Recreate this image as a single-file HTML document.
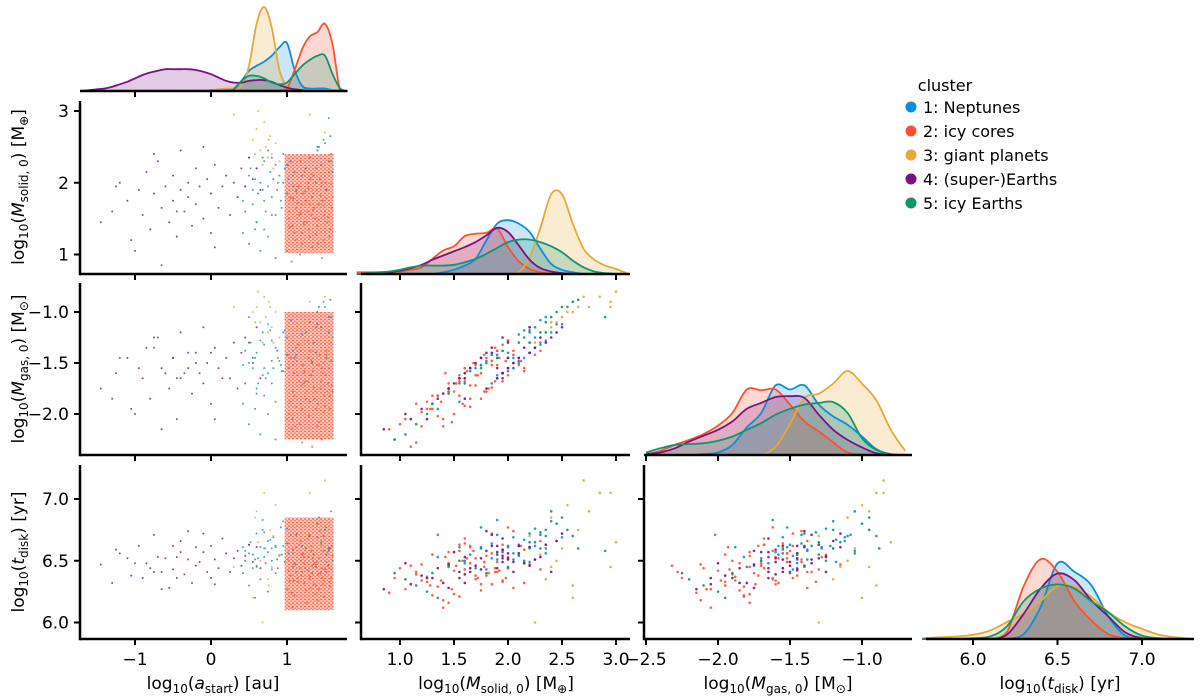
<!DOCTYPE html>
<html><head><meta charset="utf-8"><style>
html,body{margin:0;padding:0;background:#fff}
svg{display:block}
text{font-family:"DejaVu Sans","Liberation Sans",sans-serif;fill:#000}
</style></head><body>
<svg id="chart" width="1200" height="697" viewBox="0 0 1200 697" xmlns="http://www.w3.org/2000/svg">
<defs>
<pattern id="redDots" patternUnits="userSpaceOnUse" width="4" height="3.5">
<circle cx="1" cy="1" r="0.9" fill="#fc5130"/>
<circle cx="3" cy="2.7" r="0.8" fill="#fc5130" opacity="0.8"/>
</pattern>
</defs>
</svg>
<script>
// ---------- data ----------
const clusterNames = ["1: Neptunes","2: icy cores","3: giant planets","4: (super-)Earths","5: icy Earths"];
const clusterColors = ["#0c8ed9","#fc5130","#e6a836","#7d1282","#12946e"];
// points: [log a, log Msolid, log Mgas, log tdisk]
const pts1 = [[0.45,1.95,-1.38,6.58],[0.5,2.1,-1.5,6.63],[0.55,1.7,-1.55,6.44],[0.6,2.2,-1.4,6.72],[0.62,1.85,-1.7,6.52],[0.65,2.0,-1.28,6.61],[0.7,2.3,-1.32,6.73],[0.72,1.6,-1.65,6.48],[0.75,1.95,-1.6,6.57],[0.78,2.15,-1.18,6.67],[0.8,1.8,-1.48,6.43],[0.82,2.05,-1.55,6.69],[0.85,2.25,-1.35,6.62],[0.87,1.9,-1.38,6.51],[0.9,2.1,-1.48,6.54],[0.92,1.75,-1.52,6.77],[0.95,2.0,-1.58,6.62],[0.97,2.2,-1.18,6.49],[1.0,1.85,-1.42,6.64],[1.02,2.05,-1.55,6.56],[1.05,2.3,-1.08,6.71],[1.08,1.95,-1.38,6.59],[1.1,2.15,-1.45,6.48],[0.6,1.45,-1.75,6.46],[0.7,1.35,-1.82,6.53],[0.85,1.55,-1.88,6.61],[0.95,2.4,-1.2,6.82],[0.75,2.45,-1.12,6.66],[1.2,2.1,-1.22,6.62],[1.4,2.5,-1.12,6.69],[1.55,2.9,-1.05,6.58],[0.5,2.35,-1.05,6.56],[0.88,2.0,-1.45,6.44],[0.68,1.9,-1.62,6.83],[0.93,1.65,-1.58,6.55],[1.0,2.25,-1.25,6.76],[0.58,2.05,-1.45,6.51],[0.8,2.35,-1.28,6.6],[1.12,1.9,-1.42,6.71],[0.42,1.75,-1.52,6.61]];
const pts2 = [[1.0,1.05,-2.05,6.27],[1.02,1.5,-2.0,6.42],[1.05,1.8,-1.45,6.38],[1.08,2.1,-1.52,6.56],[1.1,1.3,-1.82,6.22],[1.12,1.65,-1.93,6.61],[1.15,1.95,-1.32,6.33],[1.18,2.3,-1.38,6.66],[1.2,1.15,-2.28,6.41],[1.22,1.45,-1.7,6.48],[1.25,1.75,-1.85,6.26],[1.28,2.0,-1.28,6.53],[1.3,1.25,-1.88,6.37],[1.32,1.55,-1.62,6.58],[1.35,1.85,-1.74,6.31],[1.38,2.2,-1.15,6.47],[1.4,1.4,-2.12,6.18],[1.42,1.7,-1.52,6.52],[1.45,1.95,-1.68,6.63],[1.48,1.2,-1.98,6.34],[1.5,1.6,-1.92,6.43],[1.52,1.9,-1.38,6.41],[1.55,2.15,-1.55,6.59],[1.57,1.35,-1.82,6.29],[1.6,1.8,-1.78,6.54],[1.03,1.6,-1.55,6.64],[1.07,1.4,-2.05,6.12],[1.13,1.85,-1.48,6.72],[1.17,1.0,-2.1,6.44],[1.23,2.15,-1.58,6.32],[1.27,1.6,-1.68,6.68],[1.33,1.1,-2.32,6.46],[1.37,1.5,-1.78,6.23],[1.43,2.05,-1.42,6.74],[1.47,1.75,-1.6,6.31],[1.53,1.45,-1.78,6.57],[1.58,2.3,-1.3,6.43],[1.09,1.95,-1.6,6.34],[1.19,1.7,-1.72,6.38],[1.29,1.35,-2.02,6.71],[1.39,1.9,-1.52,6.49],[1.49,1.55,-1.82,6.21],[1.59,1.65,-1.72,6.62],[1.01,2.25,-1.42,6.51],[1.11,1.2,-2.12,6.47],[1.21,1.85,-1.52,6.56],[1.31,2.05,-1.38,6.28],[1.41,1.15,-1.9,6.39],[1.51,2.0,-1.62,6.77],[1.56,1.25,-1.95,6.33],[1.06,0.9,-2.15,6.24],[1.46,0.95,-2.25,6.36],[1.16,1.55,-1.68,6.63],[1.36,1.65,-1.85,6.48],[1.26,1.45,-1.78,6.16],[1.14,1.72,-1.62,6.36],[1.24,1.88,-1.68,6.44],[1.34,1.62,-1.58,6.52],[1.44,1.82,-1.75,6.4],[1.54,1.52,-1.7,6.46],[1.04,1.38,-1.88,6.34],[1.18,1.58,-1.9,6.5],[1.28,1.92,-1.45,6.42],[1.38,1.28,-1.95,6.3],[1.48,1.68,-1.5,6.58],[1.58,1.98,-1.48,6.36],[1.08,1.78,-1.78,6.45],[1.22,1.42,-1.6,6.53],[1.32,2.12,-1.48,6.62],[1.42,1.48,-2.08,6.27],[1.52,1.78,-1.42,6.49],[1.12,1.88,-1.35,6.41],[1.3,1.7,-1.62,6.35],[1.46,2.0,-1.55,6.44],[1.2,1.3,-1.95,6.55]];
const pts3 = [[0.55,2.6,-1.0,6.2],[0.6,2.75,-0.95,6.9],[0.65,2.45,-1.1,6.5],[0.7,2.85,-0.85,7.05],[0.72,2.5,-1.05,6.6],[0.75,2.35,-1.2,6.35],[0.78,2.65,-0.95,6.75],[0.8,2.4,-1.15,6.45],[0.85,2.55,-1.0,6.95],[0.9,2.3,-1.25,6.55],[0.62,3.0,-0.8,6.65],[0.68,2.25,-1.3,6.0],[1.3,2.95,-0.9,7.05],[1.5,2.7,-0.85,7.15],[0.3,2.95,-0.95,6.45],[0.82,2.2,-1.3,6.7],[0.58,2.4,-1.1,6.85],[0.76,2.6,-0.9,6.3]];
const pts4 = [[-1.45,1.45,-1.75,6.47],[-1.3,1.6,-1.85,6.32],[-1.2,2.0,-1.45,6.56],[-1.1,1.75,-1.45,6.52],[-1.05,1.2,-1.95,6.38],[-0.95,1.9,-1.55,6.62],[-0.9,1.55,-1.65,6.36],[-0.85,2.15,-1.35,6.48],[-0.8,1.35,-1.85,6.44],[-0.75,1.85,-1.35,6.71],[-0.7,2.3,-1.25,6.53],[-0.65,1.65,-1.55,6.41],[-0.6,1.95,-1.6,6.52],[-0.55,1.45,-1.75,6.28],[-0.5,2.1,-1.45,6.62],[-0.5,1.75,-1.45,6.43],[-0.45,1.25,-2.05,6.36],[-0.4,1.9,-1.65,6.57],[-0.4,2.45,-1.2,6.66],[-0.35,1.6,-1.6,6.39],[-0.3,2.0,-1.55,6.51],[-0.3,1.8,-1.4,6.74],[-0.25,1.4,-1.8,6.32],[-0.2,2.2,-1.4,6.61],[-0.2,1.7,-1.5,6.46],[-0.15,1.95,-1.6,6.49],[-0.1,1.5,-1.7,6.57],[-0.05,2.05,-1.5,6.41],[0.0,1.85,-1.4,6.62],[0.0,1.3,-1.9,6.36],[0.05,2.25,-1.35,6.51],[0.1,1.65,-1.55,6.44],[0.15,1.95,-1.65,6.68],[0.2,2.1,-1.45,6.56],[0.25,1.55,-1.65,6.41],[0.3,2.0,-1.3,6.52],[0.35,1.8,-1.75,6.58],[0.4,2.2,-1.4,6.46],[0.45,1.95,-1.25,6.54],[0.5,2.35,-1.3,6.63],[0.55,2.05,-1.5,6.49],[0.6,2.2,-1.15,6.61],[0.65,1.9,-1.65,6.44],[-0.65,0.85,-2.15,6.27],[-1.0,1.05,-2.0,6.48],[-0.1,2.5,-1.15,6.72],[-0.75,2.4,-1.25,6.41],[-1.25,1.95,-1.6,6.59],[0.05,1.1,-2.05,6.31],[-0.45,1.6,-1.65,6.53]];
const pts5 = [[0.42,1.3,-1.9,6.4],[0.45,1.6,-1.7,6.5],[0.5,1.15,-2.1,6.3],[0.55,1.9,-1.45,6.55],[0.6,1.45,-1.8,6.45],[0.65,1.05,-2.2,6.35],[0.7,1.75,-1.55,6.6],[0.75,1.25,-2.0,6.25],[0.8,1.55,-1.7,6.5],[0.85,0.95,-2.25,6.4],[1.25,2.2,-1.2,6.6],[1.3,2.35,-1.1,6.7],[1.35,2.1,-1.3,6.55],[1.4,2.45,-1.0,6.8],[1.45,2.25,-1.15,6.65],[1.5,2.55,-0.95,6.75],[1.55,2.3,-1.2,6.6],[1.58,2.4,-1.05,6.9],[1.6,2.15,-1.25,6.5],[1.48,2.6,-0.9,6.7],[1.38,2.0,-1.4,6.45],[1.52,1.9,-1.45,6.55],[0.52,2.2,-1.3,6.65],[0.68,2.35,-1.2,6.75],[1.42,2.5,-0.95,6.85],[1.57,2.65,-0.88,6.6],[0.58,1.35,-1.95,6.2],[1.33,1.8,-1.5,6.4]];
const clusterPoints = [pts1,pts2,pts3,pts4,pts5];
// dense red block in the a_start column: [a_min,a_max, Ms_min,Ms_max, Mg_min,Mg_max, t_min,t_max]
const redDenseBlock = [0.97,1.61, 1.02,2.4, -2.25,-1.0, 6.1,6.85];

// KDE grids and relative densities (order: cluster 1..5)
const gridA = [-1.7,-1.6,-1.5,-1.4,-1.3,-1.2,-1.1,-1.0,-0.9,-0.8,-0.7,-0.6,-0.5,-0.4,-0.3,-0.2,-0.1,0,0.1,0.2,0.3,0.4,0.5,0.6,0.7,0.8,0.9,1.0,1.1,1.2,1.3,1.4,1.5,1.6,1.7,1.8];
const kdeA = [
 [0,0,0,0,0,0,0,0,0,0,0,0,0,0,0,0,0,0,0,0.01,0.03,0.12,0.24,0.3,0.35,0.42,0.52,0.57,0.25,0.06,0.03,0.03,0.03,0.01,0,0],
 [0,0,0,0,0,0,0,0,0,0,0,0,0,0,0,0,0,0,0,0,0,0,0,0,0,0,0,0.03,0.25,0.5,0.65,0.7,0.8,0.55,0,0],
 [0,0,0,0,0,0,0,0,0,0,0,0,0,0,0,0,0,0.01,0.02,0.03,0.03,0.06,0.3,0.8,1.0,0.75,0.25,0.05,0.02,0.01,0.01,0.01,0.01,0.01,0,0],
 [0,0.01,0.02,0.03,0.05,0.08,0.11,0.15,0.19,0.22,0.24,0.26,0.26,0.26,0.26,0.25,0.23,0.2,0.16,0.12,0.1,0.1,0.12,0.13,0.13,0.11,0.07,0.04,0.02,0.01,0,0,0,0,0,0],
 [0,0,0,0,0,0,0,0,0,0,0,0,0,0,0,0,0,0,0,0,0.02,0.12,0.18,0.18,0.15,0.1,0.08,0.1,0.2,0.3,0.37,0.42,0.42,0.2,0.03,0]];
const gridMs = [0.6,0.7,0.8,0.9,1.0,1.1,1.2,1.3,1.4,1.5,1.6,1.7,1.8,1.9,2.0,2.1,2.2,2.3,2.4,2.5,2.6,2.7,2.8,2.9,3.0,3.1];
const kdeMs = [
 [0,0,0,0,0,0,0,0,0.02,0.05,0.1,0.18,0.4,0.6,0.64,0.6,0.5,0.3,0.12,0.05,0.02,0,0,0,0,0],
 [0.02,0.02,0.02,0.02,0.03,0.05,0.08,0.18,0.28,0.33,0.45,0.48,0.49,0.54,0.32,0.15,0.06,0.02,0,0,0,0,0,0,0,0],
 [0,0,0,0,0,0,0,0,0,0,0,0,0,0,0,0.02,0.2,0.55,0.95,0.95,0.6,0.3,0.17,0.1,0.06,0.01],
 [0,0,0.01,0.02,0.04,0.07,0.11,0.17,0.22,0.27,0.32,0.38,0.46,0.55,0.5,0.34,0.17,0.07,0.03,0.01,0,0,0,0,0,0],
 [0,0.01,0.02,0.03,0.05,0.08,0.1,0.1,0.1,0.11,0.14,0.18,0.24,0.31,0.38,0.41,0.41,0.38,0.33,0.26,0.16,0.08,0.03,0.01,0,0]];
const gridMg = [-2.5,-2.4,-2.3,-2.2,-2.1,-2.0,-1.9,-1.8,-1.7,-1.6,-1.5,-1.4,-1.3,-1.2,-1.1,-1.0,-0.9,-0.8,-0.7];
const kdeMg = [
 [0,0,0,0,0.01,0.03,0.12,0.33,0.5,0.83,0.78,0.83,0.6,0.46,0.36,0.22,0.07,0.01,0],
 [0.01,0.05,0.12,0.18,0.25,0.35,0.5,0.78,0.77,0.78,0.6,0.4,0.28,0.15,0.03,0,0,0,0],
 [0,0,0,0,0,0,0,0,0,0.1,0.37,0.68,0.73,0.85,1.0,0.85,0.65,0.3,0.05],
 [0.01,0.03,0.08,0.16,0.23,0.3,0.4,0.55,0.62,0.69,0.7,0.68,0.48,0.3,0.18,0.09,0.02,0,0],
 [0.03,0.08,0.12,0.13,0.14,0.17,0.22,0.3,0.38,0.48,0.55,0.6,0.62,0.63,0.5,0.2,0.06,0.01,0]];
const gridT = [5.7,5.8,5.9,6.0,6.1,6.2,6.3,6.4,6.5,6.6,6.7,6.8,6.9,7.0,7.1,7.2,7.3];
const kdeT = [
 [0,0,0,0,0,0,0.06,0.38,0.9,0.8,0.64,0.27,0.04,0,0,0,0],
 [0,0,0,0,0,0.08,0.63,0.95,0.8,0.45,0.22,0.06,0.01,0,0,0,0],
 [0.01,0.02,0.03,0.05,0.1,0.2,0.3,0.45,0.63,0.62,0.5,0.32,0.2,0.12,0.05,0.02,0],
 [0,0,0,0,0,0.05,0.3,0.6,0.78,0.7,0.46,0.27,0.08,0.01,0,0,0],
 [0,0,0,0.01,0.03,0.15,0.45,0.6,0.65,0.6,0.45,0.32,0.15,0.04,0.01,0,0]];

const xTicksA = [-1,0,1], xTickLabA = ["\u22121","0","1"];
const xTicksMs = [1.0,1.5,2.0,2.5,3.0], xTickLabMs = ["1.0","1.5","2.0","2.5","3.0"];
const xTicksMg = [-2.5,-2.0,-1.5,-1.0], xTickLabMg = ["\u22122.5","\u22122.0","\u22121.5","\u22121.0"];
const xTicksT = [6.0,6.5,7.0], xTickLabT = ["6.0","6.5","7.0"];
const yTicksMs = [1,2,3], yTickLabMs = ["1","2","3"];
const yTicksMg = [-2.0,-1.5,-1.0], yTickLabMg = ["\u22122.0","\u22121.5","\u22121.0"];
const yTicksT = [6.0,6.5,7.0], yTickLabT = ["6.0","6.5","7.0"];

// ---------- axes ----------
const NS="http://www.w3.org/2000/svg";
const svg=document.getElementById('chart');
function lin(d0,d1,r0,r1){return v=>r0+(v-d0)*(r1-r0)/(d1-d0);}
const cols=[{x0:80,x1:347,s:lin(0,1,211,287)},{x0:361,x1:630,s:lin(1,2,400,508)},{x0:644,x1:912,s:lin(-2.5,-2.0,646,718)},{x0:926,x1:1194,s:lin(6,7,973,1142)}];
const rows=[{y0:5,y1:91},{y0:101,y1:274,s:lin(1,3,254.5,111)},{y0:283,y1:455,s:lin(-2,-1,414,312)},{y0:465,y1:639,s:lin(6,7,622.5,499)}];
function el(tag,attrs,parent){const e=document.createElementNS(NS,tag);for(const k in attrs)e.setAttribute(k,attrs[k]);(parent||svg).appendChild(e);return e;}
const xTickSets=[[xTicksA,xTickLabA],[xTicksMs,xTickLabMs],[xTicksMg,xTickLabMg],[xTicksT,xTickLabT]];
const yTickSets=[null,[yTicksMs,yTickLabMs],[yTicksMg,yTickLabMg],[yTicksT,yTickLabT]];

function spineX(c,r,labels){
  const C=cols[c],R=rows[r];
  const g=el('g',{});
  
  
  el('line',{x1:C.x0,x2:C.x1,y1:R.y1,y2:R.y1,stroke:'#000','stroke-width':2.5},g);
  xTickSets[c][0].forEach((v,i)=>{const x=C.s(v);
    el('line',{x1:x,x2:x,y1:R.y1,y2:R.y1+6,stroke:'#000','stroke-width':2},g);
    if(labels){const t=el('text',{x:x,y:R.y1+26,'text-anchor':'middle','font-size':17},g);t.textContent=xTickSets[c][1][i];
      }
  });
}
function spineY(c,r,labels){
  const C=cols[c],R=rows[r];
  const g=el('g',{});
  
  
  el('line',{x1:C.x0,x2:C.x0,y1:R.y0,y2:R.y1+1.2,stroke:'#000','stroke-width':2.5},g);
  yTickSets[r][0].forEach((v,i)=>{const y=R.s(v);
    el('line',{x1:C.x0-6,x2:C.x0,y1:y,y2:y,stroke:'#000','stroke-width':2},g);
    if(labels){const t=el('text',{x:C.x0-11,y:y+6,'text-anchor':'end','font-size':17},g);t.textContent=yTickSets[r][1][i];
      }
  });
}

// ---------- scatter ----------
function scatter(c,r){
  const C=cols[c],R=rows[r],ry=R.s,rx=C.s;
  const g=el('g',{});
  
  
  const small=(c===0);
  if(c===0){
    const b=redDenseBlock;const yi=[null,[b[2],b[3]],[b[4],b[5]],[b[6],b[7]]][r];
    const x=rx(b[0]),w=rx(b[1])-rx(b[0]),y=ry(yi[1]),h=ry(yi[0])-ry(yi[1]);
    const rb=el('rect',{x:x,width:w,y:y,height:h,fill:'#fc5130',opacity:0.3},g);
    
    const rc=el('rect',{x:x,width:w,y:y,height:h,fill:'url(#redDots)'},g);
    
  }
  clusterPoints.forEach((pts,k)=>{
    pts.forEach(p=>{
      const d=el('circle',{cx:rx(p[c]),cy:ry(p[r]),r:small?1.0:1.3,fill:clusterColors[k],opacity:small?0.8:0.9},g);
      
      
    });
  });
}

// ---------- kde ----------
function smoothPath(P,base){
  let d='M'+P[0][0]+','+P[0][1];
  for(let i=0;i<P.length-1;i++){
    const p0=P[i-1]||P[i],p1=P[i],p2=P[i+1],p3=P[i+2]||P[i+1];
    const c1x=p1[0]+(p2[0]-p0[0])/6,c1y=Math.min(base,p1[1]+(p2[1]-p0[1])/6);
    const c2x=p2[0]-(p3[0]-p1[0])/6,c2y=Math.min(base,p2[1]-(p3[1]-p1[1])/6);
    d+=' C'+c1x.toFixed(1)+','+c1y.toFixed(1)+' '+c2x.toFixed(1)+','+c2y.toFixed(1)+' '+p2[0].toFixed(1)+','+p2[1].toFixed(1);
  }
  return d;
}
function kde(c,r,grid,dens){
  const C=cols[c],base=rows[r].y1,h=84;
  const g=el('g',{});
  
  
  const paths=dens.map(arr=>{
    const P=grid.map((v,i)=>[C.s(v),base-arr[i]*h]);
    return {P,d:smoothPath(P,base)};
  });
  paths.forEach((o,k)=>{
    const f=el('path',{d:o.d+' L'+o.P[o.P.length-1][0]+','+base+' L'+o.P[0][0]+','+base+' Z',fill:clusterColors[k],'fill-opacity':0.22,stroke:'none'},g);
    
  });
  paths.forEach((o,k)=>{
    const l=el('path',{d:o.d,fill:'none',stroke:clusterColors[k],'stroke-width':1.8},g);
    
  });
}

// draw
kde(0,0,gridA,kdeA); kde(1,1,gridMs,kdeMs); kde(2,2,gridMg,kdeMg); kde(3,3,gridT,kdeT);
scatter(0,1);scatter(0,2);scatter(0,3);scatter(1,2);scatter(1,3);scatter(2,3);
spineX(0,0,false);spineX(1,1,false);spineX(2,2,false);spineX(3,3,true);
spineX(0,1,false);spineX(0,2,false);spineX(0,3,true);spineX(1,2,false);spineX(1,3,true);spineX(2,3,true);
spineY(0,1,true);spineY(0,2,true);spineY(0,3,true);spineY(1,2,false);spineY(1,3,false);spineY(2,3,false);
</script>
<script>
// axis titles + legend
(function(){
const svg=document.getElementById('chart');const NS="http://www.w3.org/2000/svg";
function txt(html,x,y,rot,name){const t=document.createElementNS(NS,'text');t.setAttribute('x',x);t.setAttribute('y',y);t.setAttribute('font-size',17);t.setAttribute('text-anchor','middle');
 if(rot)t.setAttribute('transform','rotate(-90 '+x+' '+y+')');t.innerHTML=html;
 svg.appendChild(t);return t;}
const sub='<tspan font-size="12" dy="4">', e='</tspan><tspan dy="-4">';
txt('log'+sub+'10'+e+'(<tspan font-style="italic">a</tspan>'+sub+'start'+e+') [au]</tspan>',213,689,false,'x-axis-title-a');
txt('log'+sub+'10'+e+'(<tspan font-style="italic">M</tspan>'+sub+'solid, 0'+e+') [M'+sub+'\u2295'+e+']</tspan>',496,689,false,'x-axis-title-msolid');
txt('log'+sub+'10'+e+'(<tspan font-style="italic">M</tspan>'+sub+'gas, 0'+e+') [M'+sub+'\u2299'+e+']</tspan>',778,689,false,'x-axis-title-mgas');
txt('log'+sub+'10'+e+'(<tspan font-style="italic">t</tspan>'+sub+'disk'+e+') [yr]</tspan>',1060,689,false,'x-axis-title-tdisk');
txt('log'+sub+'10'+e+'(<tspan font-style="italic">M</tspan>'+sub+'solid, 0'+e+') [M'+sub+'\u2295'+e+']</tspan>',24,187,true,'y-axis-title-msolid');
txt('log'+sub+'10'+e+'(<tspan font-style="italic">M</tspan>'+sub+'gas, 0'+e+') [M'+sub+'\u2299'+e+']</tspan>',24,369,true,'y-axis-title-mgas');
txt('log'+sub+'10'+e+'(<tspan font-style="italic">t</tspan>'+sub+'disk'+e+') [yr]</tspan>',24,552,true,'y-axis-title-tdisk');
const g=document.createElementNS(NS,'g');svg.appendChild(g);
const tt=document.createElementNS(NS,'text');tt.setAttribute('x',945);tt.setAttribute('y',91);tt.setAttribute('font-size',16);tt.setAttribute('text-anchor','middle');tt.textContent='cluster';
g.appendChild(tt);
clusterNames.forEach((n,i)=>{const y=107+i*24;
 const c=document.createElementNS(NS,'circle');c.setAttribute('cx',911);c.setAttribute('cy',y);c.setAttribute('r',5.5);c.setAttribute('fill',clusterColors[i]);
 g.appendChild(c);
 const t=document.createElementNS(NS,'text');t.setAttribute('x',923);t.setAttribute('y',y+6);t.setAttribute('font-size',16);t.textContent=n;
 g.appendChild(t);});
})();
</script>
</body></html>
